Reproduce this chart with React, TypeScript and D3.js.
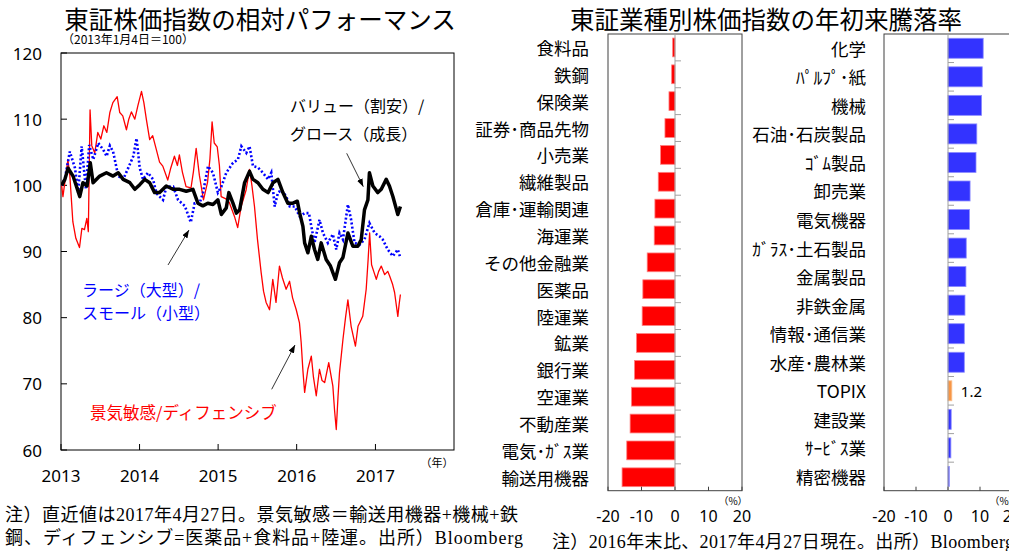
import React from 'react';
import * as d3 from 'd3';

// ---- Left chart data (2013-01-04 = 100) ----
const redDates = ['2013-01-04','2013-01-10','2013-01-19','2013-02-02','2013-02-11','2013-02-25','2013-03-11','2013-03-28','2013-04-08','2013-04-20','2013-05-01','2013-05-08','2013-05-16','2013-05-24','2013-06-07','2013-06-21','2013-07-05','2013-07-19','2013-08-02','2013-08-16','2013-08-30','2013-09-19','2013-10-01','2013-10-15','2013-11-01','2013-11-12','2013-11-24','2013-12-10','2013-12-24','2014-01-10','2014-01-21','2014-02-02','2014-02-17','2014-03-03','2014-03-20','2014-04-04','2014-04-19','2014-05-12','2014-05-25','2014-06-12','2014-06-26','2014-07-05','2014-07-19','2014-08-05','2014-08-28','2014-09-08','2014-09-21','2014-10-06','2014-10-25','2014-11-13','2014-11-24','2014-12-04','2014-12-14','2014-12-28','2015-01-07','2015-01-15','2015-02-04','2015-02-22','2015-03-18','2015-04-02','2015-04-18','2015-05-11','2015-05-27','2015-06-07','2015-06-19','2015-07-03','2015-07-20','2015-07-31','2015-08-12','2015-08-28','2015-09-12','2015-09-27','2015-10-13','2015-10-27','2015-11-13','2015-11-29','2015-12-13','2015-12-30','2016-01-14','2016-01-22','2016-01-30','2016-02-07','2016-02-22','2016-03-09','2016-03-19','2016-04-01','2016-04-16','2016-04-28','2016-05-10','2016-05-29','2016-06-17','2016-06-25','2016-07-03','2016-07-11','2016-07-18','2016-08-03','2016-08-15','2016-08-26','2016-09-10','2016-09-30','2016-10-12','2016-11-03','2016-11-19','2016-11-28','2016-12-05','2016-12-14','2016-12-24','2017-01-05','2017-01-16','2017-01-28','2017-02-13','2017-02-27','2017-03-08','2017-03-22','2017-03-31','2017-04-15','2017-04-21','2017-04-27'];
const redValues = [100.0,98.3,100.5,103.9,101.5,94.5,92.0,90.6,93.5,93.3,95.0,93.0,111.4,106.0,104.9,108.0,107.0,109.0,108.0,111.0,112.5,113.4,111.0,110.5,108.4,110.0,111.1,110.0,112.0,114.2,112.5,109.9,106.9,107.5,105.4,103.5,102.9,100.8,102.5,104.4,103.0,104.6,102.0,99.8,99.6,102.0,105.6,101.5,97.8,100.5,104.0,109.6,106.4,105.8,103.0,98.3,98.0,97.4,95.3,93.6,96.8,99.3,102.4,100.0,96.8,91.8,86.8,84.0,82.3,81.2,85.8,82.3,87.8,86.0,84.3,85.5,83.0,81.2,79.2,76.2,72.0,68.7,72.2,74.2,71.0,68.2,72.2,70.5,70.2,73.2,69.7,66.0,63.1,68.0,71.7,76.7,80.0,82.7,78.7,75.7,78.7,80.2,84.3,88.8,92.8,88.0,87.0,85.8,87.0,87.8,86.5,87.0,86.3,85.0,83.8,80.2,82.0,83.5];

const blueDates = ['2013-01-04','2013-01-19','2013-02-11','2013-03-07','2013-03-22','2013-04-07','2013-04-27','2013-05-12','2013-05-31','2013-06-23','2013-07-16','2013-08-01','2013-08-16','2013-08-31','2013-09-24','2013-10-17','2013-11-09','2013-12-03','2013-12-18','2014-01-02','2014-01-17','2014-02-09','2014-03-05','2014-03-20','2014-04-20','2014-05-06','2014-06-06','2014-06-29','2014-07-30','2014-08-14','2014-08-27','2014-09-14','2014-10-07','2014-10-23','2014-11-15','2014-12-08','2014-12-31','2015-01-16','2015-02-08','2015-03-11','2015-04-03','2015-04-19','2015-05-12','2015-05-27','2015-06-12','2015-07-05','2015-07-28','2015-08-21','2015-09-05','2015-09-21','2015-10-06','2015-10-22','2015-11-14','2015-11-30','2015-12-23','2016-01-15','2016-02-07','2016-02-27','2016-03-09','2016-03-24','2016-04-16','2016-05-02','2016-05-25','2016-06-17','2016-07-03','2016-07-18','2016-08-03','2016-08-26','2016-09-10','2016-09-26','2016-10-19','2016-11-11','2016-12-04','2016-12-28','2017-01-20','2017-02-04','2017-02-27','2017-03-23','2017-04-15','2017-04-27'];
const blueValues = [100.0,101.0,105.1,102.6,98.9,105.9,99.4,106.1,103.9,106.4,105.4,104.4,106.0,105.1,101.4,100.9,102.6,104.4,107.1,102.6,100.9,101.9,100.9,98.8,97.8,99.8,99.8,97.8,96.9,95.6,94.4,97.3,97.3,98.9,102.9,101.9,98.9,99.8,101.9,103.4,103.9,105.9,104.9,105.9,102.9,102.7,101.9,100.9,101.9,96.8,98.9,99.3,98.3,96.8,96.8,95.3,95.8,95.8,93.8,91.3,94.8,92.8,91.3,92.6,90.3,92.8,91.8,97.1,94.8,91.3,91.0,91.8,94.3,92.8,92.3,91.8,90.3,89.3,90.3,89.0];

const blackDates = ['2013-01-04','2013-01-19','2013-02-03','2013-02-26','2013-03-29','2013-04-13','2013-05-02','2013-05-17','2013-05-30','2013-06-30','2013-07-31','2013-08-31','2013-09-24','2013-10-17','2013-11-17','2013-12-10','2014-01-02','2014-01-25','2014-02-17','2014-03-12','2014-04-04','2014-05-05','2014-06-05','2014-07-06','2014-08-06','2014-09-06','2014-09-29','2014-10-22','2014-11-14','2014-12-08','2014-12-31','2015-01-16','2015-02-08','2015-02-20','2015-03-11','2015-03-27','2015-04-11','2015-05-04','2015-05-27','2015-06-12','2015-07-05','2015-07-28','2015-08-21','2015-09-13','2015-10-06','2015-10-29','2015-11-21','2015-12-15','2016-01-04','2016-01-15','2016-01-30','2016-02-07','2016-02-22','2016-03-09','2016-03-24','2016-04-08','2016-04-24','2016-05-17','2016-06-06','2016-06-29','2016-07-18','2016-08-03','2016-08-26','2016-09-18','2016-10-11','2016-10-27','2016-11-11','2016-11-27','2016-12-04','2016-12-20','2017-01-12','2017-01-28','2017-02-20','2017-03-07','2017-03-23','2017-04-15','2017-04-27'];
const blackValues = [100.0,100.9,102.6,101.4,98.3,100.4,99.9,103.4,100.4,101.4,101.9,101.4,101.9,100.9,100.4,99.4,100.1,100.9,100.4,98.9,98.9,99.9,99.4,99.4,99.1,99.4,97.3,96.9,97.3,97.1,97.8,95.6,96.6,98.9,97.3,95.8,96.3,100.4,102.1,100.9,100.4,99.4,98.9,100.4,100.9,98.9,97.3,97.3,97.6,95.8,93.8,91.3,89.8,92.3,90.3,88.8,91.3,88.8,87.8,85.8,88.3,89.1,92.8,90.8,90.8,91.8,96.3,97.8,101.9,99.9,98.9,99.4,100.9,99.9,98.3,95.6,96.8];

const yTicks = [60, 70, 80, 90, 100, 110, 120];
const xTickYears = [2013, 2014, 2015, 2016, 2017];

// ---- Right chart data (% change since end of 2016) ----
const leftCats = ['食料品','鉄鋼','保険業','証券･商品先物','小売業','繊維製品','倉庫･運輸関連','海運業','その他金融業','医薬品','陸運業','鉱業','銀行業','空運業','不動産業','電気･ｶﾞｽ業','輸送用機器'];
const leftVals = [-0.7,-1.0,-1.8,-3.0,-4.3,-5.0,-6.0,-6.2,-8.3,-9.6,-9.8,-11.5,-12.1,-13.0,-13.4,-14.4,-15.8];
const rightCats = ['化学','ﾊﾟﾙﾌﾟ･紙','機械','石油･石炭製品','ｺﾞﾑ製品','卸売業','電気機器','ｶﾞﾗｽ･土石製品','金属製品','非鉄金属','情報･通信業','水産･農林業','TOPIX','建設業','ｻｰﾋﾞｽ業','精密機器'];
const rightVals = [11.0,10.7,10.5,9.0,8.75,6.9,6.7,5.7,5.6,5.3,5.1,5.1,1.2,1.0,0.9,0.4];
const barTicks = [-20, -10, 0, 10, 20];

const JP = '"Noto Sans CJK JP", "Noto Sans", sans-serif';
const NUM = '"Noto Sans", "Open Sans", sans-serif';
const NOTE = '"Liberation Serif", "Noto Sans CJK JP", serif';

function BarPanel({ cats, vals, x0, x1, labelX, pctX, highlight }: any) {
  const x = d3.scaleLinear().domain([-20, 20]).range([x0, x1]);
  const y = d3.scaleBand<string>().domain(cats).range([34, 490.7]).paddingInner(0.3).paddingOuter(0.15);
  const top = 34, bottom = 490.7;
  const step = y.step();
  return (
    <g>
      <rect x={x(-20)} y={top} width={x(20) - x(-20)} height={bottom - top} fill="none" stroke="#404040" strokeWidth={1} />
      {cats.map((c: string, i: number) => {
        const v = vals[i];
        const isHi = c === highlight;
        const fill = isHi ? '#F79646' : v < 0 ? '#FF0000' : '#3333FF';
        const stroke = isHi ? '#FAC090' : v < 0 ? '#FF8080' : '#8C8CFF';
        const bx = Math.min(x(0), x(v));
        const cy = (y(c) as number) + y.bandwidth() / 2;
        return (
          <g key={c}>
            <rect x={bx} y={y(c)} width={Math.abs(x(v) - x(0))} height={y.bandwidth()} fill={fill} stroke={stroke} strokeWidth={0.8} />
            <text x={labelX} y={cy} textAnchor="end" dominantBaseline="central" fontFamily={JP} fontSize={17.5} fill="#000">{c}</text>
            {isHi && <text x={x(v) + 9} y={cy} dominantBaseline="central" fontFamily={NUM} fontSize={15} fill="#000">{v.toFixed(1)}</text>}
          </g>
        );
      })}
      <line x1={x(0)} x2={x(0)} y1={top} y2={bottom} stroke="#A0A0A0" strokeWidth={1} />
      {cats.slice(1).map((c: string) => {
        const yy = (y(c) as number) - (step * 0.3) / 2;
        return <line key={'t' + c} x1={x(0)} x2={x(0) + 6} y1={yy} y2={yy} stroke="#A0A0A0" strokeWidth={1} />;
      })}
      {barTicks.map((t) => (
        <g key={'bt' + t}>
          <line x1={x(t)} x2={x(t)} y1={bottom} y2={bottom - 4} stroke="#404040" />
          <text x={x(t)} y={516} textAnchor="middle" dominantBaseline="central" fontFamily={NUM} fontSize={16} fill="#000">{t}</text>
        </g>
      ))}
      <text x={pctX} y={500} textAnchor="middle" dominantBaseline="central" fontFamily={JP} fontSize={10} fill="#000">（%）</text>
    </g>
  );
}

export default function App() {
  const parse = d3.timeParse('%Y-%m-%d');
  const x = d3.scaleTime().domain([new Date(2013, 0, 1), new Date(2018, 0, 1)]).range([61, 454]);
  const y = d3.scaleLinear().domain([60, 120]).range([450, 53]);
  const line = d3.line<[string, number]>().x((d) => x(parse(d[0]) as Date)).y((d) => y(d[1]));
  const zip = (ds: string[], vs: number[]) => ds.map((d, i) => [d, vs[i]] as [string, number]);

  return (
    <svg width={1009} height={551} style={{ position: 'absolute', left: 0, top: 0, background: '#fff' }}>
      <defs>
        <marker id="arr" viewBox="0 0 8 6" refX={8} refY={3} markerWidth={8} markerHeight={6} markerUnits="userSpaceOnUse" orient="auto">
          <path d="M0,0 L8,3 L0,6 z" fill="#000" />
        </marker>
        <clipPath id="plotclip"><rect x={61} y={53} width={393} height={397} /></clipPath>
      </defs>
      <rect x={0} y={0} width={1009} height={551} fill="#fff" />

      {/* Left chart */}
      <text x={260} y={28.5} textAnchor="middle" fontFamily={JP} fontSize={24.5} fill="#000">東証株価指数の相対パフォーマンス</text>
      <text x={62} y={44} fontFamily={JP} fontSize={12} fill="#000">（2013年1月4日＝100）</text>
      <rect x={61} y={53} width={393} height={397} fill="none" stroke="#000" strokeWidth={1} />
      {yTicks.map((t) => (
        <g key={'y' + t}>
          <line x1={61} x2={67} y1={y(t)} y2={y(t)} stroke="#000" />
          <text x={42} y={y(t)} textAnchor="end" dominantBaseline="central" fontFamily={NUM} fontSize={17} fill="#000">{t}</text>
        </g>
      ))}
      {xTickYears.map((t) => (
        <g key={'x' + t}>
          <line x1={x(new Date(t, 0, 1))} x2={x(new Date(t, 0, 1))} y1={450} y2={444} stroke="#000" />
          <text x={x(new Date(t, 0, 1))} y={475} textAnchor="middle" dominantBaseline="central" fontFamily={NUM} fontSize={17} fill="#000">{t}</text>
        </g>
      ))}
      <text x={437} y={462} textAnchor="middle" dominantBaseline="central" fontFamily={JP} fontSize={11} fill="#000">（年）</text>

      <g clipPath="url(#plotclip)">
        <path d={line(zip(redDates, redValues)) as string} fill="none" stroke="#FF0000" strokeWidth={1.3} strokeLinejoin="round" />
        <path d={line(zip(blueDates, blueValues)) as string} fill="none" stroke="#0000FF" strokeWidth={2.6} strokeDasharray="2 2.2" />
        <path d={line(zip(blackDates, blackValues)) as string} fill="none" stroke="#000" strokeWidth={3.5} strokeLinejoin="round" />
      </g>

      <text x={290} y={105} dominantBaseline="central" fontFamily={JP} fontSize={16} fill="#000">バリュー（割安）/</text>
      <text x={290} y={133} dominantBaseline="central" fontFamily={JP} fontSize={16} fill="#000">グロース（成長）</text>
      <line x1={346.7} y1={153.3} x2={363.3} y2={186.7} stroke="#000" strokeWidth={0.8} markerEnd="url(#arr)" />

      <text x={82} y={289} dominantBaseline="central" fontFamily={JP} fontSize={16} fill="#0000FF">ラージ（大型）/</text>
      <text x={82} y={312} dominantBaseline="central" fontFamily={JP} fontSize={16} fill="#0000FF">スモール（小型）</text>
      <line x1={168} y1={265} x2={189} y2={230} stroke="#000" strokeWidth={0.8} markerEnd="url(#arr)" />

      <text x={90} y={411.5} dominantBaseline="central" fontFamily={JP} fontSize={16.5} fill="#FF0000">景気敏感/ディフェンシブ</text>
      <line x1={271.7} y1={389.3} x2={295} y2={345} stroke="#000" strokeWidth={0.8} markerEnd="url(#arr)" />

      <text x={5} y={515} dominantBaseline="central" fontFamily={NOTE} fontSize={18} textLength={513} lengthAdjust="spacing" fill="#000">注）直近値は2017年4月27日。景気敏感＝輸送用機器+機械+鉄</text>
      <text x={5} y={538} dominantBaseline="central" fontFamily={NOTE} fontSize={18} textLength={518} lengthAdjust="spacing" fill="#000">鋼、ディフェンシブ=医薬品+食料品+陸運。出所）Bloomberg</text>

      {/* Right chart */}
      <text x={766} y={28.5} textAnchor="middle" fontFamily={JP} fontSize={24.5} fill="#000">東証業種別株価指数の年初来騰落率</text>
      <BarPanel cats={leftCats} vals={leftVals} x0={608} x1={742} labelX={589} pctX={733} highlight="" />
      <BarPanel cats={rightCats} vals={rightVals} x0={884} x1={1012} labelX={866} pctX={1004} highlight="TOPIX" />
      <text x={552} y={542} dominantBaseline="central" fontFamily={NOTE} fontSize={18} textLength={462} lengthAdjust="spacing" fill="#000">注）2016年末比、2017年4月27日現在。出所）Bloomberg</text>
    </svg>
  );
}
